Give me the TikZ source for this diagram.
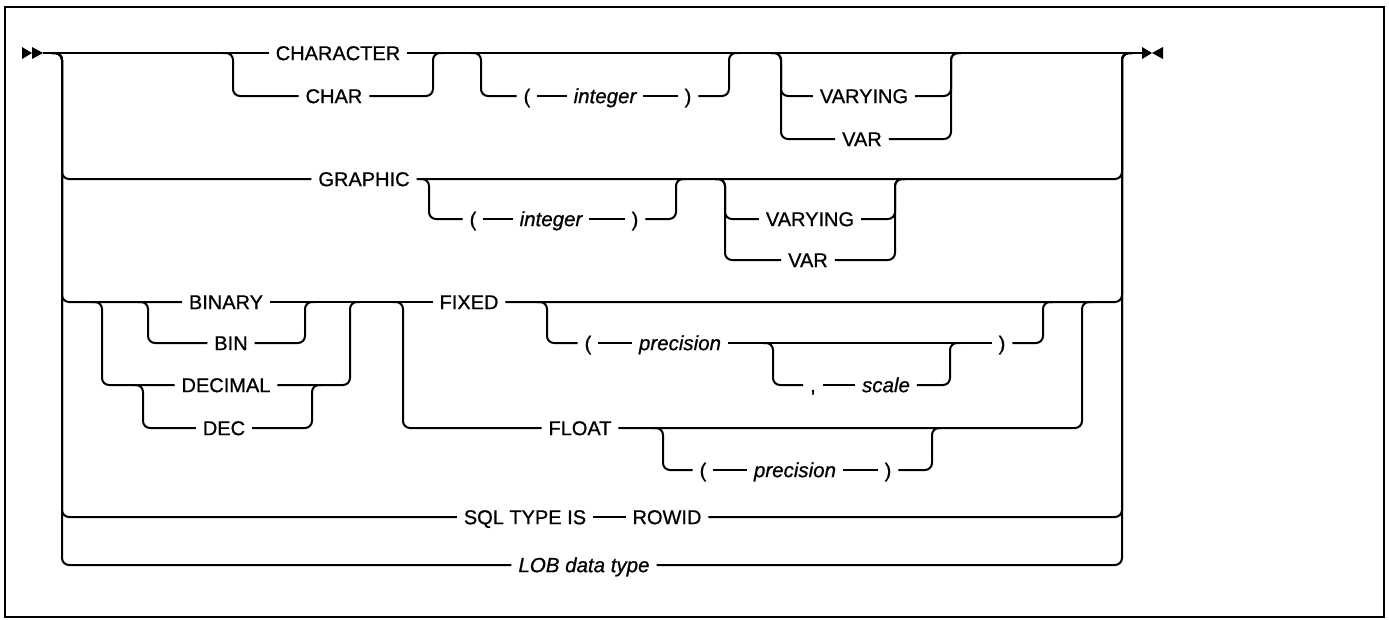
\documentclass[tikz,border=0pt]{standalone}
\usepackage{fontspec}
\setmainfont{Liberation Sans}[FakeBold=0.8]
\usetikzlibrary{positioning}

\begin{document}
\begin{tikzpicture}[x=1pt,y=-1pt,
    rail/.style={line width=2pt,rounded corners=7pt},
    kw/.style={inner sep=0pt,outer sep=7pt,text height=14.3pt,text depth=0pt,
      font=\fontsize{20}{24}\selectfont},
    arg/.style={kw,font=\fontsize{20.5}{24}\selectfont\itshape}]
  \useasboundingbox (0,0) rectangle (1389,619);
  \draw[line width=2pt] (5,7) rectangle (1384,617);

  % entry and exit of the main line
  \coordinate (start) at (43,53);
  \coordinate (stop) at (1142,53);
  \fill (22,47) -- (32,53) -- (22,59) -- cycle (32,47) -- (43,53) -- (32,59) -- cycle;
  \fill (1142,47) -- (1152,53) -- (1142,59) -- cycle (1163,47) -- (1152,53) -- (1163,59) -- cycle;
  \coordinate (jl) at (62,53);
  \coordinate (kr) at (1122,53);

  % CHARACTER row
  \node[kw] (character) at (338,53) {CHARACTER};
  \node[kw] (char) at (334,96) {CHAR};
  \node[kw] (lp1) at (527,96) {(};
  \node[arg] (int1) at (605,96) {integer};
  \node[kw] (rp1) at (688,96) {)};
  \node[kw] (varying1) at (864,96) {VARYING};
  \node[kw] (var1) at (862,139) {VAR};
  \coordinate (j1) at (233,53); \coordinate (k1) at (433,53);
  \coordinate (j2) at (481,53); \coordinate (k2) at (729,53);
  \coordinate (j3) at (781,53); \coordinate (k3) at (951,53);

  % GRAPHIC row
  \node[kw] (graphic) at (364,179) {GRAPHIC};
  \node[kw] (lp2) at (473,219) {(};
  \node[arg] (int2) at (551,219) {integer};
  \node[kw] (rp2) at (635,219) {)};
  \node[kw] (varying2) at (810,219) {VARYING};
  \node[kw] (var2) at (808,260) {VAR};
  \coordinate (j4) at (429,179); \coordinate (k4) at (676,179);
  \coordinate (j5) at (725,179); \coordinate (k5) at (895,179);

  % BINARY / DECIMAL row
  \node[kw] (binary) at (226,302) {BINARY};
  \node[kw] (bin) at (231,343) {BIN};
  \node[kw] (decimal) at (226,385) {DECIMAL};
  \node[kw] (dec) at (224,428) {DEC};
  \node[kw] (fixed) at (469,302) {FIXED};
  \node[kw] (float) at (580,428) {FLOAT};
  \node[kw] (lp3) at (588,343) {(};
  \node[arg] (prec3) at (680,343) {precision};
  \node[kw] (rp3) at (1002,343) {)};
  \node[kw] (comma) at (813,385) {,};
  \node[arg] (scale) at (886,385) {scale};
  \node[kw] (lp4) at (703,470) {(};
  \node[arg] (prec4) at (795,470) {precision};
  \node[kw] (rp4) at (888,470) {)};
  \coordinate (jdec) at (102,302); \coordinate (kdec) at (350,302);
  \coordinate (jbin) at (148,302); \coordinate (kbin) at (305,302);
  \coordinate (jdc) at (143,385);  \coordinate (kdc) at (312,385);
  \coordinate (jfl) at (403,302);  \coordinate (kfl) at (1082,302);
  \coordinate (jfx) at (547,302);  \coordinate (kfx) at (1043,302);
  \coordinate (jsc) at (773,343);  \coordinate (ksc) at (950,343);
  \coordinate (jfp) at (663,428);  \coordinate (kfp) at (932,428);

  % last two rows
  \node[kw] (sql) at (525,517) {SQL TYPE IS};
  \node[kw] (rowid) at (667,517) {ROWID};
  \node[arg] (lob) at (584,565) {LOB data type};

  % straight runs
  \foreach \na/\nb in {start/character, character/stop, lp1/int1, int1/rp1,
      lp2/int2, int2/rp2, binary/fixed, lp3/prec3, prec3/rp3, comma/scale,
      lp4/prec4, prec4/rp4, sql/rowid}
    \draw[rail] (\na) -- (\nb);

  % branches: junction / first node / last node / rejoin
  \foreach \ja/\na/\nb/\kb in {j1/char/char/k1, j2/lp1/rp1/k2,
      j3/varying1/varying1/k3, j3/var1/var1/k3,
      jl/graphic/graphic/kr, j4/lp2/rp2/k4,
      j5/varying2/varying2/k5, j5/var2/var2/k5,
      jl/binary/fixed/kr, jdec/decimal/decimal/kdec, jbin/bin/bin/kbin,
      jdc/dec/dec/kdc, jfl/float/float/kfl, jfx/lp3/rp3/kfx,
      jsc/comma/scale/ksc, jfp/lp4/rp4/kfp,
      jl/sql/rowid/kr, jl/lob/lob/kr} {
    \draw[rail] (\ja) ++(-10,0) -- ++(10,0) |- (\na);
    \draw[rail] (\nb) -| (\kb) -- ++(10,0);
  }
\end{tikzpicture}
\end{document}
